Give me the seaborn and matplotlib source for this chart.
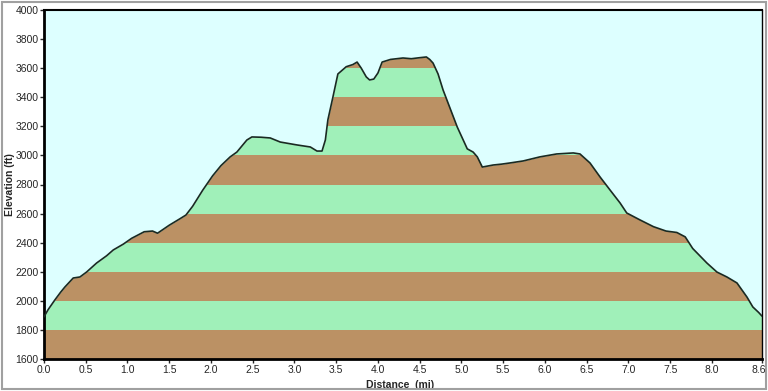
import numpy as np
import pandas as pd
import seaborn as sns
from matplotlib import pyplot as plt
from matplotlib.patches import Rectangle
from matplotlib.transforms import ScaledTranslation

# profile (miles, feet)
distance_mi = [0.00, 0.05, 0.13, 0.20, 0.25, 0.35, 0.43, 0.51, 0.63, 0.75, 0.83, 0.95,
               1.05, 1.20, 1.30, 1.36, 1.50, 1.63, 1.70, 1.78, 1.90, 2.02, 2.12, 2.23,
               2.31, 2.43, 2.49, 2.60, 2.71, 2.83, 3.03, 3.19, 3.27, 3.33, 3.37, 3.40,
               3.46, 3.52, 3.62, 3.70, 3.75, 3.80, 3.86, 3.90, 3.95, 4.00, 4.05, 4.15,
               4.30, 4.40, 4.50, 4.58, 4.62, 4.66, 4.72, 4.78, 4.86, 4.95, 5.07, 5.14,
               5.19, 5.25, 5.38, 5.48, 5.58, 5.74, 5.94, 6.14, 6.34, 6.42, 6.54, 6.66,
               6.78, 6.90, 6.98, 7.14, 7.30, 7.45, 7.58, 7.68, 7.77, 7.94, 8.06, 8.18,
               8.30, 8.42, 8.49, 8.56, 8.60]
elevation_ft = [1890, 1940, 2006, 2060, 2095, 2157, 2164, 2198, 2260, 2310, 2350, 2390,
                2430, 2475, 2480, 2465, 2520, 2565, 2590, 2650, 2760, 2860, 2930, 2990,
                3023, 3106, 3127, 3125, 3120, 3092, 3072, 3058, 3030, 3030, 3106, 3244,
                3400, 3560, 3610, 3625, 3642, 3600, 3540, 3519, 3525, 3567, 3642, 3660,
                3670, 3665, 3672, 3677, 3660, 3635, 3560, 3450, 3330, 3195, 3045, 3023,
                2990, 2920, 2934, 2940, 2948, 2962, 2990, 3010, 3017, 3010, 2948, 2852,
                2762, 2673, 2604, 2556, 2510, 2480, 2470, 2440, 2360, 2260, 2198, 2164,
                2123, 2026, 1958, 1920, 1895]

x_ticks = [0.0, 0.5, 1.0, 1.5, 2.0, 2.5, 3.0, 3.5, 4.0, 4.5, 5.0, 5.5, 6.0, 6.5,
           7.0, 7.5, 8.0, 8.6]
y_ticks = list(range(1600, 4001, 200))

sky = '#DDFFFF'
brown = '#BB9164'
green = '#A0F0B9'

df = pd.DataFrame({'Distance': distance_mi, 'Elevation': elevation_ft})

sns.set_style('white')
plt.rcParams['font.family'] = ['Liberation Sans', 'DejaVu Sans']

fig = plt.figure(figsize=(7.68, 3.91), dpi=100)
ax = fig.add_axes([44 / 768, 1 - 359 / 391, 718 / 768, 349 / 391])
ax.set_facecolor(sky)

# alternating elevation bands, then cover everything above the profile with sky
for i, lo in enumerate(y_ticks[:-1]):
    ax.axhspan(lo, lo + 200, facecolor=brown if i % 2 == 0 else green, lw=0, zorder=1)
ax.fill_between(df['Distance'], df['Elevation'], 4000, color=sky, lw=0, zorder=2)

sns.lineplot(data=df, x='Distance', y='Elevation', ax=ax, color='#1A2A22',
             linewidth=1.2, zorder=3)

ax.set_xlim(0, 8.6)
ax.set_ylim(1600, 4000)
ax.set_xticks(x_ticks)
ax.set_xticklabels([f'{t:.1f}' for t in x_ticks], fontsize=7.5)
ax.set_yticks(y_ticks)
ax.set_yticklabels([str(t) for t in y_ticks], fontsize=7.5)
ax.tick_params(direction='out', length=3, width=1, pad=1, bottom=True, left=True)
# last distance label sits against the frame, nudge it in a little
last = ax.get_xticklabels()[-1]
last.set_transform(last.get_transform() + ScaledTranslation(-3 / 100, 0, fig.dpi_scale_trans))

for s in ax.spines.values():
    s.set_color('black')
ax.spines['left'].set_linewidth(2)
ax.spines['bottom'].set_linewidth(2)
ax.spines['top'].set_linewidth(1.5)
ax.spines['right'].set_linewidth(1)

ax.set_xlabel('Distance  (mi)', fontsize=7.5, fontweight='bold')
ax.set_ylabel('Elevation (ft)', fontsize=7.5, fontweight='bold')
ax.xaxis.set_label_coords((400 - 44) / 718, -(380 - 359) / 349)
ax.yaxis.set_label_coords(-(44 - 15) / 718, 0.5)
ax.grid(False)

# grey window frame
fig.patches.append(Rectangle((2 / 768, 2 / 391), 764 / 768, 387 / 391,
                             transform=fig.transFigure, fill=False,
                             edgecolor='#A0A0A0', lw=1.5))

fig.savefig('out.png', dpi=100)
plt.close()
